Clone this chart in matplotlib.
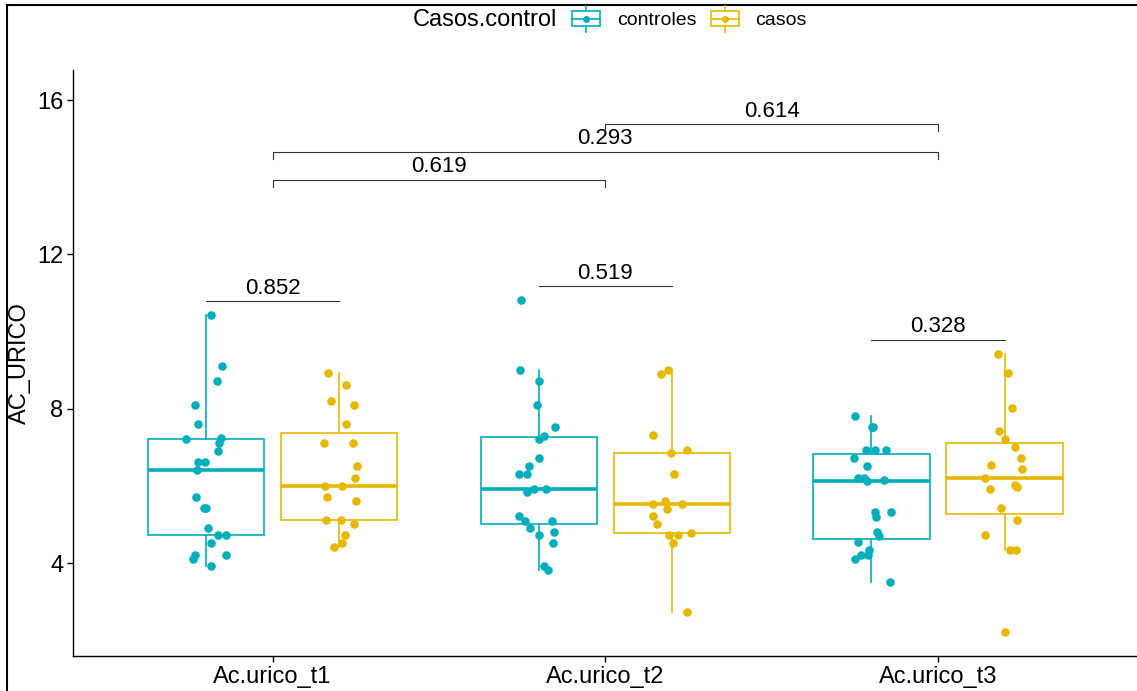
import numpy as np
import matplotlib
matplotlib.use("Agg")
import matplotlib.pyplot as plt
from matplotlib.patches import Rectangle
from matplotlib.lines import Line2D
from matplotlib.legend_handler import HandlerBase

plt.rcParams['font.family'] = ['Liberation Sans', 'DejaVu Sans']

# ---------------- data ----------------
categories = ['Ac.urico_t1', 'Ac.urico_t2', 'Ac.urico_t3']
groups = ['controles', 'casos']

ctrl_t1 = [10.42, 9.10, 8.72, 8.10, 7.61, 7.23, 7.21, 7.10, 6.91, 6.63, 6.63, 6.40,
           5.72, 5.42, 5.42, 4.92, 4.72, 4.72, 4.51, 4.21, 4.21, 4.10, 3.91]
case_t1 = [8.92, 8.61, 8.21, 8.10, 7.61, 7.11, 7.11, 6.52, 6.21, 6.00, 6.00, 5.72,
           5.61, 5.11, 5.11, 5.01, 4.72, 4.52, 4.42]
ctrl_t2 = [10.81, 9.01, 8.72, 8.10, 7.52, 7.30, 7.21, 6.71, 6.52, 6.31, 6.31, 5.92,
           5.83, 5.92, 5.23, 5.10, 5.10, 4.92, 4.81, 4.72, 4.53, 3.92, 3.82]
case_t2 = [9.01, 8.91, 7.31, 6.93, 6.86, 6.31, 5.62, 5.52, 5.52, 5.41, 5.21, 5.00,
           4.77, 4.72, 4.72, 4.52, 2.72]
ctrl_t3 = [7.81, 7.52, 7.52, 6.92, 6.92, 6.92, 6.71, 6.52, 6.21, 6.21, 6.14, 6.12,
           5.31, 5.31, 5.20, 4.81, 4.71, 4.54, 4.34, 4.20, 4.20, 4.11, 3.52]
case_t3 = [9.42, 8.92, 8.01, 7.43, 7.21, 7.02, 6.73, 6.54, 6.43, 6.21, 6.02, 5.97,
           5.92, 5.42, 5.11, 4.72, 4.33, 4.33, 2.21]

within_p = ['0.852', '0.519', '0.328']
between_pairs = [(0, 1), (0, 2), (1, 2)]
between_p = ['0.619', '0.293', '0.614']

yticks = [4, 8, 12, 16]

# ---------------- style ----------------
colors = {'controles': '#00AFBB', 'casos': '#E7B800'}
data = {'controles': [ctrl_t1, ctrl_t2, ctrl_t3],
        'casos': [case_t1, case_t2, case_t3]}
offsets = {'controles': -0.2, 'casos': 0.2}
box_w = 0.35
FS = 16

W, H = 1137, 691
fig = plt.figure(figsize=(W / 100, H / 100), dpi=100)
ax = fig.add_axes([73 / W, 1 - 656 / H, (1136 - 73) / W, (656 - 70) / H])

rng = np.random.default_rng(7)
pos = np.arange(1, len(categories) + 1)
for g in groups:
    c = colors[g]
    ax.boxplot(data[g], positions=pos + offsets[g], widths=box_w, whis=1.5,
               showfliers=False, patch_artist=True, manage_ticks=False,
               boxprops=dict(facecolor='white', edgecolor=c, linewidth=1.2),
               whiskerprops=dict(color=c, linewidth=1.2),
               capprops=dict(linewidth=0),
               medianprops=dict(color=c, linewidth=2.6),
               zorder=2)
    for i, vals in enumerate(data[g]):
        xs = pos[i] + offsets[g] + rng.uniform(-0.06, 0.06, len(vals))
        ax.scatter(xs, vals, s=38, color=c, zorder=3, linewidths=0)

# within-timepoint comparisons
for i, p in enumerate(within_p):
    ymax = max(max(data['controles'][i]), max(data['casos'][i]))
    yb = ymax + 0.37
    x0, x1 = pos[i] + offsets['controles'], pos[i] + offsets['casos']
    ax.plot([x0, x1], [yb, yb], color='#333333', lw=0.8, zorder=4)
    ax.text((x0 + x1) / 2, yb + 0.06, p, ha='center', va='bottom', fontsize=FS)

# between-timepoint comparisons
base, step, tick = 13.94, 0.72, 0.18
for k, ((a, b), p) in enumerate(zip(between_pairs, between_p)):
    yb = base + k * step
    x0, x1 = pos[a], pos[b]
    ax.plot([x0, x0, x1, x1], [yb - tick, yb, yb, yb - tick], color='#333333', lw=0.8, zorder=4)
    ax.text((x0 + x1) / 2, yb + 0.06, p, ha='center', va='bottom', fontsize=FS)

ax.set_xlim(0.4, 3.595)
ax.set_ylim(1.59, 16.78)
ax.set_xticks(pos)
ax.set_xticklabels(categories, fontsize=FS + 1)
ax.set_yticks(yticks)
ax.set_yticklabels([str(t) for t in yticks], fontsize=FS + 1)
ax.set_ylabel('AC_URICO', fontsize=FS + 1, labelpad=4)
ax.spines['top'].set_visible(False)
ax.spines['right'].set_visible(False)
for s in ['left', 'bottom']:
    ax.spines[s].set_linewidth(1.0)
ax.tick_params(direction='out', length=4, width=1.0, colors='black', pad=3)


# legend with boxplot glyphs
class BoxHandler(HandlerBase):
    def create_artists(self, legend, orig_handle, xdescent, ydescent, width, height, fontsize, trans):
        c = orig_handle.get_color()
        x0, y0 = -xdescent, -ydescent
        cx, cy = x0 + width / 2, y0 + height / 2
        v = Line2D([cx, cx], [y0 - height * 0.3, y0 + height * 1.3], color=c, lw=1.2, transform=trans)
        r = Rectangle((x0, y0 + height * 0.05), width, height * 0.9, facecolor='white',
                      edgecolor=c, lw=1.2, transform=trans)
        m = Line2D([x0, x0 + width], [cy, cy], color=c, lw=1.2, transform=trans)
        d = Line2D([cx], [cy], marker='o', ms=5, color=c, mew=0, transform=trans)
        return [v, r, m, d]


handles = [Line2D([], [], color=colors[g]) for g in groups]
fig.text(413 / W, 1 - 20 / H, 'Casos.control', fontsize=FS + 1, ha='left', va='center')
fig.legend(handles, groups, handler_map={Line2D: BoxHandler()}, loc='center left',
           bbox_to_anchor=(572 / W, 1 - 20 / H), ncol=2, frameon=False, fontsize=FS - 2,
           handlelength=1.45, handleheight=0.9, handletextpad=0.85, columnspacing=0.75,
           borderaxespad=0, borderpad=0)

# outer frame lines (left and top)
fig.add_artist(Line2D([7 / W, 7 / W], [0, 1 - 5 / H], color='black', lw=1.5, transform=fig.transFigure))
fig.add_artist(Line2D([7 / W, 1], [1 - 5 / H, 1 - 5 / H], color='black', lw=1.5, transform=fig.transFigure))

fig.savefig('out.png', dpi=100)
